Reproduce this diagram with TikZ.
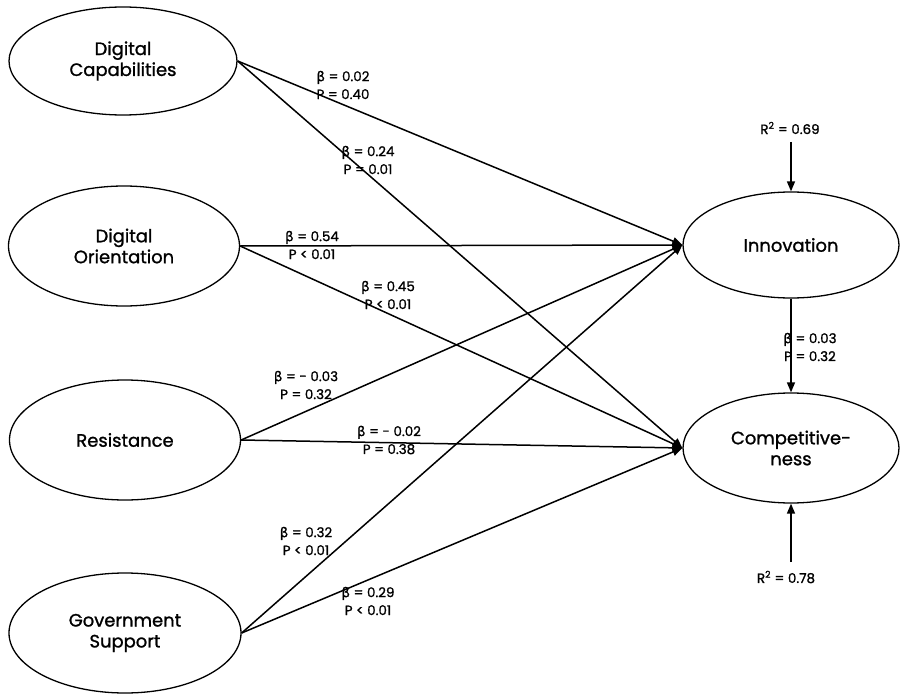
\documentclass[tikz,border=0pt]{standalone}
\usepackage{fontspec}
\setmainfont{Poppins}[FakeBold=1.2]
\newfontfamily\grk{DejaVu Sans}[FakeBold=1]
\usetikzlibrary{shapes.geometric,arrows.meta}
\newcommand{\bt}{{\grk β}}
\begin{document}
\begin{tikzpicture}[x=1bp,y=-1bp, line width=1.5bp,
  latent/.style={draw, ellipse, inner sep=0pt, line width=1.3bp, font=\fontsize{18}{21}\selectfont, align=center},
  pth/.style={-{Triangle[length=10bp,width=8bp]}},
  coef/.style={font=\fontsize{13.5}{18}\selectfont, align=center, inner sep=0pt}]
\useasboundingbox (0,0) rectangle (902,694);
\node[latent, minimum width=228bp, minimum height=108bp] (dc) at (123,61) {Digital\\Capabilities};
\node[latent, minimum width=231bp, minimum height=120bp] (do) at (124,246) {Digital\\Orientation};
\node[latent, minimum width=231bp, minimum height=120bp] (rs) at (125,440) {Resistance};
\node[latent, minimum width=232bp, minimum height=120bp] (gs) at (125,633) {Government\\Support};
\node[latent, minimum width=216bp, minimum height=106bp] (in) at (791,245) {Innovation};
\node[latent, minimum width=216bp, minimum height=110bp] (cp) at (791,448) {Competitive-\\ness};
\coordinate (r1) at (791,142);
\coordinate (r2) at (791,562);
\node[coef] (r1l) at (790,128) {R\textsuperscript{2} = 0.69};
\node[coef] (r2l) at (786,577) {R\textsuperscript{2} = 0.78};
\draw[pth] (r1) -- (in.north);
\draw[pth] (r2) -- (cp.south);
\draw[pth] (in.south) -- (cp.north);
\draw[pth] (dc.east) -- (in.west);
\draw[pth] (dc.east) -- (cp.west);
\draw[pth] (do.east) -- (in.west);
\draw[pth] (do.east) -- (cp.west);
\draw[pth] (rs.east) -- (in.west);
\draw[pth] (rs.east) -- (cp.west);
\draw[pth] (gs.east) -- (in.west);
\draw[pth] (gs.east) -- (cp.west);
\node[coef] (l1) at (343,85) {\bt{} = 0.02\\P = 0.40};
\node[coef] (l2) at (368,160) {\bt{} = 0.24\\P = 0.01};
\node[coef] (l3) at (312,245) {\bt{} = 0.54\\P < 0.01};
\node[coef] (l4) at (388,295) {\bt{} = 0.45\\P < 0.01};
\node[coef] (l5) at (306,385) {\bt{} = - 0.03\\P = 0.32};
\node[coef] (l6) at (389,440) {\bt{} = - 0.02\\P = 0.38};
\node[coef] (l7) at (306,541) {\bt{} = 0.32\\P < 0.01};
\node[coef] (l8) at (368,601) {\bt{} = 0.29\\P < 0.01};
\node[coef] (l9) at (810,347) {\bt{} = 0.03\\P = 0.32};
\end{tikzpicture}
\end{document}
